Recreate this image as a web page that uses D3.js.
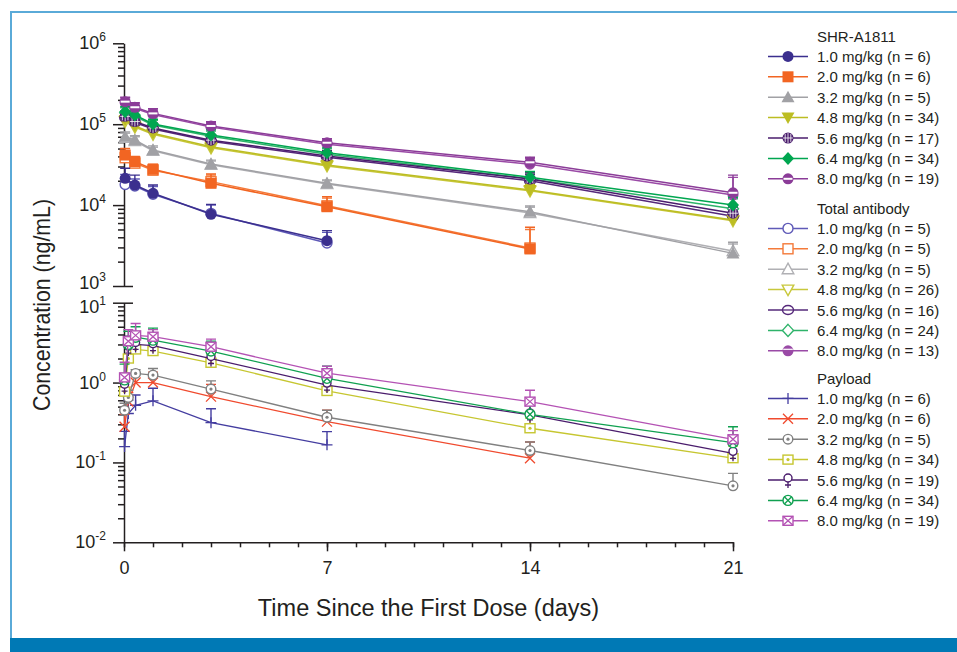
<!DOCTYPE html>
<html lang="en">
<head>
<meta charset="UTF-8">
<title>SHR-A1811 concentration-time profiles</title>
<style>
  body { margin: 0; padding: 0; background: #fff; }
  svg { display: block; font-family: "Liberation Sans", Arial, sans-serif; }
</style>
</head>
<body>
<div id="chart"></div>
<script src="https://d3js.org/d3.v7.min.js"></script>
<script>
  // ---- data ----
  const doses = ["1.0", "2.0", "3.2", "4.8", "5.6", "6.4", "8.0"];
  const adcN = [6, 6, 5, 34, 17, 34, 19];
  const tabN = [5, 5, 5, 26, 16, 24, 13];
  const payN = [6, 6, 5, 34, 19, 34, 19];

  const adcDays = [0.04, 0.375, 1, 3, 7, 14, 21];
  const payDays = [0.02, 0.15, 0.4, 1, 3, 7, 14, 21];

  const adcMean = [
    [21400, 17700, 14000, 7700, 3630, null, null],
    [41600, 34400, 27700, 18600, 9550, 2870, null],
    [70100, 63800, 48000, 32200, 18600, 8280, 2530],
    [113000, 95000, 77200, 52700, 31300, 15400, 6550],
    [125000, 108000, 90000, 63500, 40400, 21000, 7940],
    [143000, 130000, 100700, 73600, 44400, 22100, 10000],
    [190000, 162000, 136000, 95100, 59000, 33800, 14200]
  ];
  const adcUpper = [
    [28500, 23500, 17700, 10200, 4830, null, null],
    [50000, 40000, 32000, 24200, 12700, 5320, null],
    [80000, 72000, 54000, 36000, 20500, 9750, 3470],
    [130000, 110000, 88000, 60000, 36000, 18000, 7800],
    [145000, 125000, 103000, 74000, 47000, 25000, 9500],
    [165000, 150000, 115000, 85000, 51000, 26000, 12500],
    [215000, 185000, 155000, 107000, 66000, 39000, 23500]
  ];
  const tabMean = [
    [18000, 17200, 13600, 7900, 3400, null, null],
    [38500, 33000, 27000, 19500, 9800, 2950, null],
    [68000, 62000, 47000, 31500, 18200, 8000, 2700],
    [108000, 92000, 75000, 51000, 30500, 15000, 6400],
    [121000, 105000, 87000, 61500, 39000, 20000, 7300],
    [139000, 125000, 98000, 71000, 42500, 21200, 9000],
    [184000, 157000, 132000, 92000, 56500, 32000, 13300]
  ];
  const tabUpper = [
    [24000, 21000, 17000, 10000, 4600, null, null],
    [47000, 39000, 31500, 23500, 12200, 5000, null],
    [77000, 70000, 52000, 35000, 20000, 9400, 3300],
    [125000, 106000, 86000, 58000, 35000, 17500, 7600],
    [140000, 121000, 100000, 72000, 45500, 24000, 9000],
    [160000, 145000, 112000, 82000, 49500, 25000, 12000],
    [210000, 180000, 150000, 104000, 64000, 37500, 22000]
  ];
  const payMean = [
    [0.158, 0.41, 0.52, 0.59, 0.315, 0.166, null, null],
    [0.28, 0.58, 1.0, 1.0, 0.667, 0.324, 0.113, null],
    [0.45, 0.65, 1.3, 1.24, 0.83, 0.368, 0.141, 0.051],
    [0.77, 2.0, 2.6, 2.48, 1.77, 0.785, 0.268, 0.113],
    [0.9, 2.7, 3.0, 2.9, 2.0, 0.93, 0.394, 0.130],
    [1.08, 3.0, 3.7, 3.4, 2.48, 1.13, 0.40, 0.177],
    [1.16, 3.3, 3.9, 3.75, 2.81, 1.31, 0.577, 0.195]
  ];
  const payUpper = [
    [0.245, 0.6, 0.7, 0.85, 0.47, 0.243, null, null],
    [0.4, 0.75, 1.3, 1.35, 0.95, 0.45, 0.18, null],
    [0.55, 0.8, 1.45, 1.5, 1.05, 0.45, 0.18, 0.073],
    [1.2, 3.0, 3.4, 3.3, 2.3, 1.05, 0.36, 0.16],
    [1.3, 3.8, 4.2, 4.0, 2.8, 1.35, 0.55, 0.2],
    [1.7, 4.4, 5.0, 4.8, 3.3, 1.6, 0.55, 0.28],
    [1.8, 4.6, 5.5, 4.6, 3.5, 1.6, 0.8, 0.25]
  ];

  const dayTicks = [0, 7, 14, 21];
  const topTicks = [1e3, 1e4, 1e5, 1e6];
  const botTicks = [1e-2, 1e-1, 1, 10];

  // ---- styles ----
  const adcColors = ["#3b2f8e", "#f26522", "#a1a1a5", "#bcbd22", "#4a1c6c", "#00a650", "#8b3c98"];
  const tabColors = ["#5f5ab8", "#f47a3a", "#b0b0b4", "#c8c83c", "#55287a", "#2eb36a", "#9a4aa6"];
  const payColors = ["#443da0", "#f04a2e", "#808080", "#c6c630", "#4a1c6c", "#10a050", "#b452b4"];
  const adcShapes = ["circle", "square", "triUp", "triDown", "circleGrid", "diamond", "circleBand"];
  const tabShapes = ["oCircle", "oSquare", "oTriUp", "oTriDown", "oCircleBar", "oDiamond", "halfCircle"];
  const payShapes = ["plus", "cross", "circleDot", "squareDot", "female", "circleX", "squareX"];
  const ink = "#231f20";

  const width = 957, height = 652;
  const svg = d3.select("#chart").append("svg")
      .attr("width", width)
      .attr("height", height);

  // frame
  svg.append("path").attr("d", "M11,638V12H957")
      .attr("fill", "none").attr("stroke", "#5aaad8").attr("stroke-width", 2);
  svg.append("rect").attr("x", 10).attr("y", 638).attr("width", 947).attr("height", 14)
      .attr("fill", "#0079b5");

  const x = d3.scaleLinear().domain([0, 21]).range([124, 733]);
  const yTop = d3.scaleLog().domain([1e3, 1e6]).range([286, 43.3]);
  const yBot = d3.scaleLog().domain([1e-2, 10]).range([542.3, 302.7]);

  function minors(lo, hi) {
    const out = [];
    for (let e = lo; e < hi; e++) {
      for (let m = 2; m <= 9; m++) out.push(m * Math.pow(10, e));
    }
    return out;
  }

  function styleAxis(g) {
    g.selectAll("path, line").attr("stroke", ink).attr("stroke-width", 1.5);
  }

  // y axes (broken: two stacked log panels)
  function yAxis(scale, majors, lo, hi, breakVal, labelShift) {
    const g = svg.append("g").attr("transform", "translate(124,0)");
    g.append("g").call(d3.axisLeft(scale).tickValues(majors).tickSize(11).tickSizeOuter(0).tickFormat(""))
        .call(styleAxis);
    g.append("g").call(d3.axisLeft(scale).tickValues(minors(lo, hi)).tickSize(6).tickFormat(""))
        .call(a => a.select(".domain").remove()).call(styleAxis);
    g.append("g").call(d3.axisRight(scale).tickValues([breakVal]).tickSize(9).tickFormat(""))
        .call(a => a.select(".domain").remove()).call(styleAxis);

    majors.forEach(v => {
      const e = Math.round(Math.log10(v));
      const t = svg.append("text")
          .attr("x", 106)
          .attr("y", scale(v) + 6 + (v === breakVal ? labelShift : 0))
          .attr("text-anchor", "end")
          .attr("fill", ink)
          .attr("font-size", 18);
      t.append("tspan").text("10");
      t.append("tspan").attr("dy", -8).attr("font-size", 12).text(e < 0 ? "-" + (-e) : e);
    });
  }
  yAxis(yTop, topTicks, 3, 6, 1e3, -3);
  yAxis(yBot, botTicks, -2, 1, 10, 4);

  // x axis
  const xg = svg.append("g").attr("transform", "translate(0,542.3)");
  xg.append("g").call(d3.axisBottom(x).tickValues(d3.range(0, 22)).tickSize(5).tickFormat(""))
      .call(a => a.select(".domain").remove()).call(styleAxis);
  xg.append("g").call(d3.axisBottom(x).tickValues(dayTicks).tickSize(9).tickSizeOuter(0).tickPadding(10))
      .call(styleAxis)
      .call(a => a.selectAll("text").attr("font-size", 18).attr("fill", ink)
          .attr("font-family", "\"Liberation Sans\", Arial, sans-serif"));

  // titles
  svg.append("text")
      .attr("x", x(10.5))
      .attr("y", 616)
      .attr("text-anchor", "middle")
      .attr("font-size", 23.5)
      .attr("fill", ink)
      .text("Time Since the First Dose (days)");

  svg.append("text")
      .attr("transform", "translate(50,305) rotate(-90)")
      .attr("text-anchor", "middle")
      .attr("font-size", 24)
      .attr("textLength", 212)
      .attr("lengthAdjust", "spacingAndGlyphs")
      .attr("fill", ink)
      .text("Concentration (ng/mL)");

  // markers
  function drawMarker(sel, type, color, cx, cy) {
    const g = sel.append("g").attr("transform", `translate(${cx},${cy})`);
    const open = (el) => el.attr("fill", "#fff").attr("stroke", color).attr("stroke-width", 1.4);
    const strokeOnly = (el) => el.attr("fill", "none").attr("stroke", color).attr("stroke-width", 1.3);
    switch (type) {
      case "circle":
        g.append("circle").attr("r", 5.5).attr("fill", color); break;
      case "square":
        g.append("rect").attr("x", -5.5).attr("y", -5.5).attr("width", 11).attr("height", 11).attr("fill", color); break;
      case "triUp":
        g.append("path").attr("d", "M0,-6.5L6.5,5L-6.5,5Z").attr("fill", color); break;
      case "triDown":
        g.append("path").attr("d", "M0,6.5L6.5,-5L-6.5,-5Z").attr("fill", color); break;
      case "circleGrid":
        g.append("circle").attr("r", 5.5).attr("fill", color);
        g.append("path").attr("d", "M-5,0H5M0,-5V5M-2.8,-4V4M2.8,-4V4")
            .attr("stroke", "#fff").attr("stroke-width", 0.8); break;
      case "diamond":
        g.append("path").attr("d", "M0,-6.5L6,0L0,6.5L-6,0Z").attr("fill", color); break;
      case "circleBand":
        g.append("circle").attr("r", 5.5).attr("fill", color);
        g.append("rect").attr("x", -4.5).attr("y", -1).attr("width", 9).attr("height", 2).attr("fill", "#fff"); break;
      case "oCircle":
        open(g.append("circle").attr("r", 5)); break;
      case "oSquare":
        open(g.append("rect").attr("x", -5).attr("y", -5).attr("width", 10).attr("height", 10)); break;
      case "oTriUp":
        open(g.append("path").attr("d", "M0,-6L5.8,4.5L-5.8,4.5Z")); break;
      case "oTriDown":
        open(g.append("path").attr("d", "M0,6L5.8,-4.5L-5.8,-4.5Z")); break;
      case "oCircleBar":
        open(g.append("ellipse").attr("rx", 5.5).attr("ry", 4.5));
        strokeOnly(g.append("path").attr("d", "M-5.5,0H5.5")); break;
      case "oDiamond":
        open(g.append("path").attr("d", "M0,-6L5.5,0L0,6L-5.5,0Z")); break;
      case "halfCircle":
        g.append("circle").attr("r", 5.5).attr("fill", color);
        g.append("path").attr("d", "M-4.8,-1.5H4.8").attr("stroke", "#fff").attr("stroke-width", 1.2); break;
      case "plus":
        strokeOnly(g.append("path").attr("d", "M-5.5,0H5.5M0,-5.5V5.5")); break;
      case "cross":
        strokeOnly(g.append("path").attr("d", "M-5,-5L5,5M-5,5L5,-5")); break;
      case "circleDot":
        open(g.append("circle").attr("r", 4.8));
        g.append("circle").attr("r", 1.6).attr("fill", color); break;
      case "squareDot":
        open(g.append("rect").attr("x", -5).attr("y", -4.5).attr("width", 10).attr("height", 9));
        g.append("circle").attr("r", 1.6).attr("fill", color); break;
      case "female":
        open(g.append("circle").attr("cy", -2).attr("r", 4));
        strokeOnly(g.append("path").attr("d", "M0,2V8M-3,5H3")); break;
      case "circleX":
        open(g.append("circle").attr("r", 5));
        strokeOnly(g.append("path").attr("d", "M-3.4,-3.4L3.4,3.4M-3.4,3.4L3.4,-3.4")); break;
      case "squareX":
        open(g.append("rect").attr("x", -5).attr("y", -4.5).attr("width", 10).attr("height", 9));
        strokeOnly(g.append("path").attr("d", "M-5,-4.5L5,4.5M-5,4.5L5,-4.5")); break;
    }
  }

  // series
  const plot = svg.append("g");
  function drawSeries(days, mean, upper, scale, color, shape, lw) {
    const pts = days.map((t, i) => ({ t, v: mean[i], u: upper[i] })).filter(p => p.v != null);
    const g = plot.append("g");
    const line = d3.line().x(p => x(p.t)).y(p => scale(p.v));
    g.append("path").attr("d", line(pts))
        .attr("fill", "none").attr("stroke", color).attr("stroke-width", lw);
    pts.filter(p => p.u != null).forEach(p => {
      const px = x(p.t), y0 = scale(p.v), y1 = scale(p.u);
      g.append("path").attr("d", `M${px},${y0}V${y1}M${px - 5},${y1}H${px + 5}`)
          .attr("fill", "none").attr("stroke", color).attr("stroke-width", 1.4);
    });
    pts.forEach(p => drawMarker(g, shape, color, x(p.t), scale(p.v)));
  }

  doses.forEach((d, i) => drawSeries(adcDays, tabMean[i], tabUpper[i], yTop, tabColors[i], tabShapes[i], 1.5));
  doses.forEach((d, i) => drawSeries(adcDays, adcMean[i], adcUpper[i], yTop, adcColors[i], adcShapes[i], 1.5));
  doses.forEach((d, i) => drawSeries(payDays, payMean[i], payUpper[i], yBot, payColors[i], payShapes[i], 1.3));

  // legend
  const legend = svg.append("g");
  const groups = [
    { title: "SHR-A1811", n: adcN, colors: adcColors, shapes: adcShapes, y: 36 },
    { title: "Total antibody", n: tabN, colors: tabColors, shapes: tabShapes, y: 208 },
    { title: "Payload", n: payN, colors: payColors, shapes: payShapes, y: 378 }
  ];
  groups.forEach(grp => {
    legend.append("text")
        .attr("x", 817).attr("y", grp.y + 5.5)
        .attr("font-size", 15).attr("fill", ink)
        .text(grp.title);
    doses.forEach((d, i) => {
      const cy = grp.y + 20.4 * (i + 1);
      legend.append("path").attr("d", `M768,${cy}H808`)
          .attr("stroke", grp.colors[i]).attr("stroke-width", 1.5);
      drawMarker(legend, grp.shapes[i], grp.colors[i], 788, cy);
      legend.append("text")
          .attr("x", 817).attr("y", cy + 5.5)
          .attr("font-size", 15).attr("fill", ink)
          .text(`${d} mg/kg (n = ${grp.n[i]})`);
    });
  });
</script>
</body>
</html>
